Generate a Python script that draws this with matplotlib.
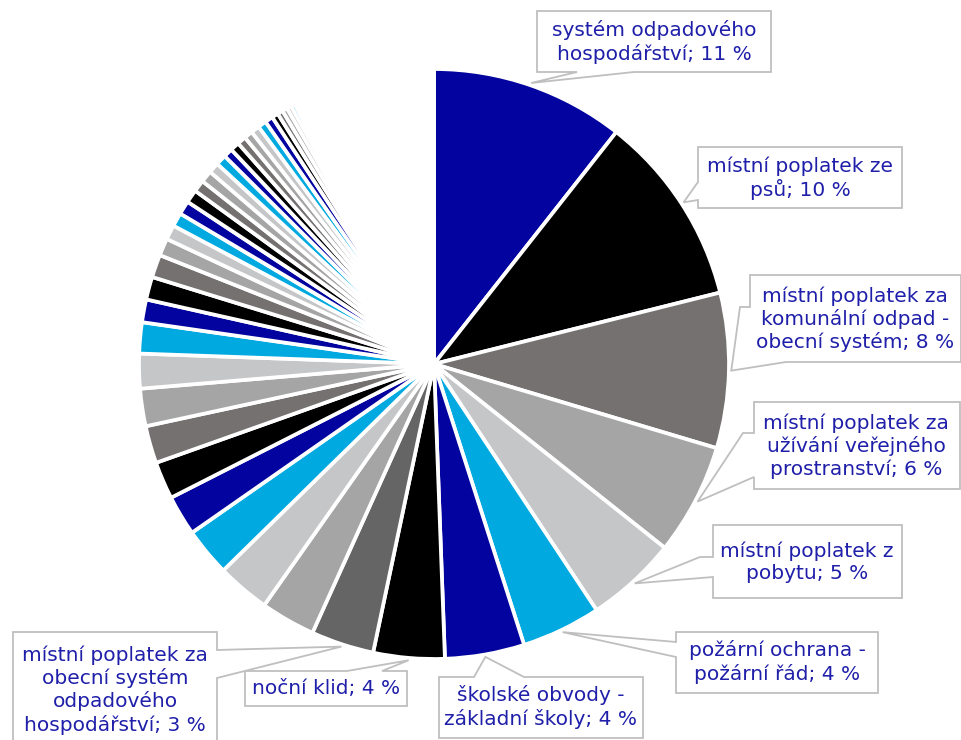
import matplotlib.pyplot as plt
import numpy as np
from matplotlib.patches import Polygon

W, H = 962, 740

# labelled slices (clockwise from 12 o'clock)
label_texts = [
    "systém odpadového\nhospodářství; 11 %",
    "místní poplatek ze\npsů; 10 %",
    "místní poplatek za\nkomunální odpad -\nobecní systém; 8 %",
    "místní poplatek za\nužívání veřejného\nprostranství; 6 %",
    "místní poplatek z\npobytu; 5 %",
    "požární ochrana -\npožární řád; 4 %",
    "školské obvody -\nzákladní školy; 4 %",
    "noční klid; 4 %",
    "místní poplatek za\nobecní systém\nodpadového\nhospodářství; 3 %",
]

# shares in %
major_shares = [10.6, 10.5, 8.5, 6.1, 5.0, 4.35, 4.35, 3.9, 3.45]
minor_shares = [3.0, 2.9, 2.65, 2.2, 2.05, 2.05, 2.05, 1.9, 1.7, 1.25,
                1.25, 1.25, 0.95, 0.8, 0.75, 0.75, 0.72, 0.65, 0.65, 0.58,
                0.58, 0.5, 0.5, 0.48, 0.47, 0.47, 0.46, 0.44, 0.35, 0.3,
                0.28, 0.25, 0.22, 0.2, 0.18]
# long tail of tiny categories (hidden under the white borders)
tail_shares = [0.14, 0.14, 0.14, 0.14, 0.14, 0.14, 0.14, 0.14, 0.14, 0.14,
               0.12, 0.12, 0.12, 0.12, 0.12, 0.12, 0.12, 0.12, 0.12, 0.12,
               0.12, 0.12, 0.12, 0.12, 0.12,
               0.10, 0.10, 0.10, 0.10, 0.10, 0.10, 0.10, 0.10, 0.10, 0.10,
               0.10, 0.10, 0.10, 0.10, 0.10, 0.10, 0.10, 0.10, 0.10, 0.10,
               0.09, 0.09, 0.09, 0.09, 0.09, 0.09, 0.09, 0.09, 0.09, 0.09,
               0.09, 0.09, 0.09, 0.09, 0.09, 0.09, 0.09, 0.09, 0.09, 0.09,
               0.09, 0.09, 0.09, 0.09, 0.09]

shares = major_shares + minor_shares + tail_shares

palette = ["#0303A0", "#000000", "#767171", "#A5A5A5", "#C5C6C8", "#00AAE0"]
colors = [palette[i % len(palette)] for i in range(len(shares))]
colors[8] = "#656565"

fig = plt.figure(figsize=(W / 100, H / 100), dpi=100)
ax = fig.add_axes([0, 0, 1, 1])

center = (434, H - 364)
radius = 295
wedges, _ = ax.pie(
    shares, colors=colors, startangle=90, counterclock=False,
    center=center, radius=radius, frame=True,
    wedgeprops=dict(edgecolor="white", linewidth=2.7),
)
ax.set_xlim(0, W)
ax.set_ylim(0, H)
ax.set_aspect("equal")
ax.axis("off")

# callout boxes: text centre and outline in pixel coords (y from top), None = tip
callouts = [
    dict(xy=(654, 42), outline=[(537, 11), (771, 11), (771, 72), (634, 72), None,
                                (577, 72), (537, 72)]),
    dict(xy=(800, 178), outline=[(698, 147), (902, 147), (902, 208), (698, 208),
                                 (698, 200), None, (698, 182)]),
    dict(xy=(855, 319), outline=[(750, 275), (961, 275), (961, 362), (786, 362),
                                 None, (740, 307), (750, 307)]),
    dict(xy=(856, 446), outline=[(754, 402), (960, 402), (960, 489), (754, 489),
                                 (754, 477), None, (743, 433), (754, 433)]),
    dict(xy=(807, 562), outline=[(713, 525), (902, 525), (902, 598), (713, 598),
                                 (713, 577), None, (700, 557), (713, 557)]),
    dict(xy=(777, 662), outline=[(676, 632), (878, 632), (878, 693), (676, 693),
                                 (676, 657), None, (676, 642)]),
    dict(xy=(541, 707), outline=[(439, 677), (474, 677), None, (524, 677),
                                 (643, 677), (643, 738), (439, 738)]),
    dict(xy=(326, 688), outline=[(245, 671), (347, 671), None, (382, 671),
                                 (407, 671), (407, 706), (245, 706)]),
    dict(xy=(115, 690), outline=[(13, 632), (217, 632), (217, 650), None,
                                 (217, 678), (217, 750), (13, 750)]),
]

for i, co in enumerate(callouts):
    w = wedges[i]
    mid = np.deg2rad((w.theta1 + w.theta2) / 2)
    tip = (center[0] + radius * 1.008 * np.cos(mid),
           center[1] + radius * 1.008 * np.sin(mid))
    pts = [tip if p is None else (p[0], H - p[1]) for p in co["outline"]]
    ax.add_patch(Polygon(pts, closed=True, facecolor="white",
                         edgecolor="#BFBFBF", linewidth=1.3, zorder=3))
    ax.text(co["xy"][0], H - co["xy"][1], label_texts[i], ha="center",
            va="center", color="#1F1FAA", fontsize=14.5, linespacing=1.2,
            zorder=4)

fig.savefig("out.png", dpi=100)
